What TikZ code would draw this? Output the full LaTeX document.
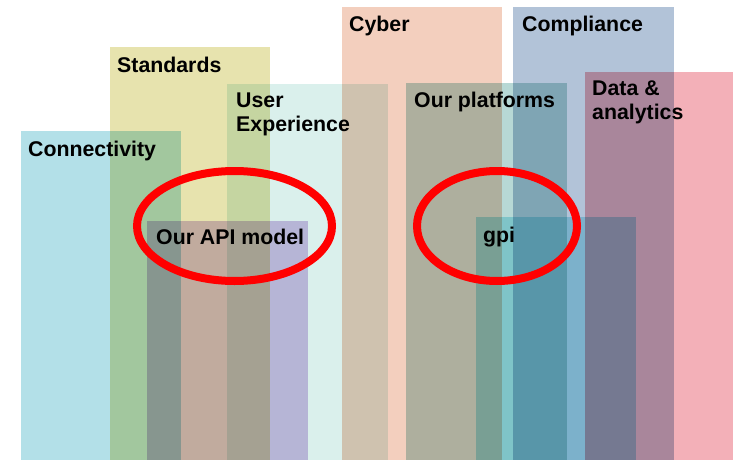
\documentclass[tikz,border=0pt]{standalone}
\usepackage{fontspec}
\setmainfont{Liberation Sans}

\definecolor{conn}{RGB}{179,224,232}
\definecolor{stand}{RGB}{231,227,174}
\definecolor{ux}{RGB}{218,240,236}
\definecolor{api}{RGB}{214,193,232}
\definecolor{cyber}{RGB}{243,207,190}
\definecolor{compl}{RGB}{178,195,216}
\definecolor{data}{RGB}{243,176,184}
\definecolor{plat}{RGB}{183,216,213}
\definecolor{gpi}{RGB}{178,232,240}
\definecolor{ring}{RGB}{255,0,0}

\begin{document}
\begin{tikzpicture}[x=1pt, y=-1pt,
	area/.style={blend mode=multiply},
	tag/.style={anchor=base west, inner sep=0pt, align=left,
		font=\bfseries\fontsize{21.3}{24.5}\selectfont},
	loop/.style={draw=ring, line width=8pt}]
	\useasboundingbox (0,0) rectangle (733,460);

	\fill[area, conn] (21,131) coordinate (con) rectangle (181,460);
	\fill[area, stand] (110,47) coordinate (sta) rectangle (270,460);
	\fill[area, ux] (227,84) coordinate (use) rectangle (388,460);
	\fill[area, api] (147,221) coordinate (apm) rectangle (308,460);
	\fill[area, cyber] (342,7) coordinate (cyb) rectangle (502,460);
	\fill[area, plat] (406,83) coordinate (pla) rectangle (567,460);
	\fill[area, compl] (513,7) coordinate (com) rectangle (674,460);
	\fill[area, data] (585,72) coordinate (dat) rectangle (733,460);
	\fill[area, gpi] (476,217) coordinate (gp) rectangle (636,460);

	% two-line labels sit on the baseline of their last line
	\node[tag] (conT) at ([shift={(7,25)}]con) {Connectivity};
	\node[tag] (staT) at ([shift={(7,25)}]sta) {Standards};
	\node[tag] (useT) at ([shift={(9,47.5)}]use) {User\\Experience};
	\node[tag] (apmT) at ([shift={(9,23)}]apm) {Our API model};
	\node[tag] (cybT) at ([shift={(7,25)}]cyb) {Cyber};
	\node[tag] (plaT) at ([shift={(8,24)}]pla) {Our platforms};
	\node[tag] (comT) at ([shift={(9,25)}]com) {Compliance};
	\node[tag] (datT) at ([shift={(7,47.5)}]dat) {Data \&\\analytics};
	\node[tag] (gpT) at ([shift={(7,25)}]gp) {gpi};

	\draw[loop] (234.5,226) ellipse [x radius=97.5, y radius=55];
	\draw[loop] (497,226) ellipse [x radius=80, y radius=55];
\end{tikzpicture}
\end{document}
